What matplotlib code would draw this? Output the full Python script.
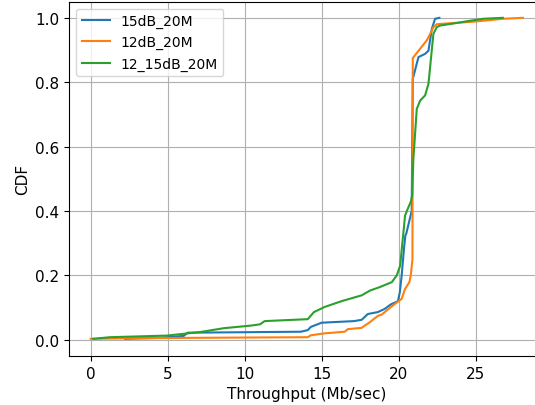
import matplotlib
matplotlib.use("Agg")
import matplotlib.pyplot as plt

labels = ["15dB_20M", "12dB_20M", "12_15dB_20M"]

x_15dB = [2.24, 4.5, 6.04, 6.3, 13.65, 14.1, 14.3, 15.0, 17.1, 17.6, 18.0, 18.65, 19.1, 19.5,
          19.96, 20.08, 20.2, 20.35, 20.44, 20.5, 20.85, 20.92, 21.29, 21.72, 21.94, 22.16,
          22.37, 22.65]
cdf_15dB = [0.003, 0.006, 0.012, 0.022, 0.025, 0.03, 0.04, 0.053, 0.058, 0.062, 0.08,
            0.086, 0.096, 0.11, 0.12, 0.148, 0.2, 0.283, 0.324, 0.33, 0.40, 0.81, 0.878,
            0.888, 0.898, 0.966, 0.997, 1.0]

x_12dB = [0.0, 3.0, 14.1, 14.3, 15.2, 16.5, 16.7, 17.6, 17.8, 18.15, 18.4, 18.69, 18.9,
          19.45, 20.0, 20.2, 20.42, 20.7, 20.79, 20.9, 20.92, 21.4, 21.83, 22.05, 22.26,
          22.48, 22.7, 24.86, 26.8, 28.07]
cdf_12dB = [0.003, 0.005, 0.008, 0.014, 0.02, 0.025, 0.033, 0.037, 0.044, 0.055, 0.065,
            0.075, 0.078, 0.1, 0.12, 0.127, 0.158, 0.179, 0.2, 0.25, 0.875, 0.904, 0.93,
            0.95, 0.971, 0.98, 0.981, 0.988, 0.997, 1.0]

x_mix = [0.17, 1.26, 4.96, 7.1, 8.65, 10.4, 11.0, 11.3, 14.1, 14.5, 15.2, 16.3, 17.6, 18.15,
         18.8, 19.56, 19.88, 20.1, 20.25, 20.42, 20.64, 20.79, 20.88, 20.96, 21.18, 21.4,
         21.72, 21.94, 22.1, 22.26, 22.48, 22.7, 23.78, 24.65, 25.5, 26.77]
cdf_mix = [0.003, 0.008, 0.013, 0.024, 0.036, 0.044, 0.048, 0.058, 0.064, 0.086, 0.102,
           0.12, 0.138, 0.153, 0.164, 0.179, 0.2, 0.23, 0.303, 0.386, 0.412, 0.428, 0.448,
           0.562, 0.717, 0.743, 0.759, 0.795, 0.873, 0.95, 0.971, 0.976, 0.984, 0.991,
           0.997, 1.0]

fig = plt.figure(figsize=(5.35, 4.06), dpi=100)
ax = fig.add_axes([0.1295, 0.121, 1.017 - 0.1295, 0.9933 - 0.121])

ax.plot(x_15dB, cdf_15dB, color="#1f77b4", lw=1.5, label=labels[0])
ax.plot(x_12dB, cdf_12dB, color="#ff7f0e", lw=1.5, label=labels[1])
ax.plot(x_mix, cdf_mix, color="#2ca02c", lw=1.5, label=labels[2])

ax.set_xlim(-1.39, 29.45)
ax.set_ylim(-0.05, 1.05)
ax.set_xticks([0, 5, 10, 15, 20, 25])
ax.set_yticks([0.0, 0.2, 0.4, 0.6, 0.8, 1.0])
ax.tick_params(labelsize=11)
ax.grid(True)
ax.set_xlabel("Throughput (Mb/sec)", fontsize=11)
ax.set_ylabel("CDF", fontsize=11)
ax.legend(loc="upper left", fontsize=10)

fig.savefig("out.png", dpi=100)
